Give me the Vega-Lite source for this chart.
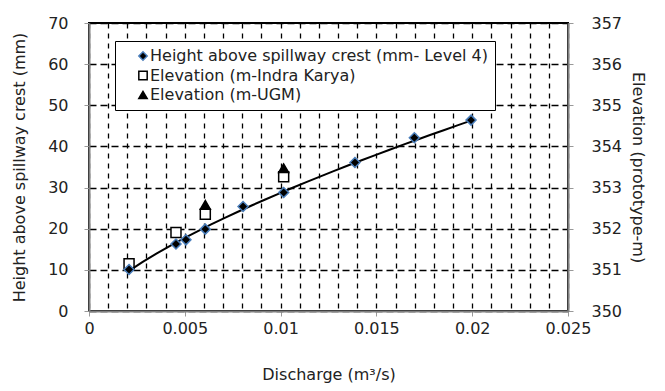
{
  "$schema": "https://vega.github.io/schema/vega-lite/v6.json",
  "width": 479,
  "height": 288,
  "autosize": {"type": "none"},
  "padding": {"left": 89, "top": 23, "right": 97, "bottom": 80},
  "background": "white",
  "config": {
    "font": "DejaVu Sans",
    "view": {"stroke": "black", "strokeWidth": 2},
    "axis": {
      "labelFont": "DejaVu Sans",
      "titleFont": "DejaVu Sans",
      "labelFontSize": 16,
      "titleFontSize": 16,
      "labelColor": "#222",
      "titleColor": "#222",
      "titleFontWeight": "normal",
      "domainColor": "#808080",
      "domainWidth": 2,
      "tickColor": "#999",
      "tickSize": 5,
      "gridColor": "black",
      "gridWidth": 1.3
    },
    "legend": {"labelFont": "DejaVu Sans"}
  },
  "datasets": {
    "height": [
      {"q": 0.00209, "h": 10.1, "series": "Height above spillway crest (mm- Level 4)"},
      {"q": 0.00454, "h": 16.3, "series": "Height above spillway crest (mm- Level 4)"},
      {"q": 0.00506, "h": 17.3, "series": "Height above spillway crest (mm- Level 4)"},
      {"q": 0.00607, "h": 19.9, "series": "Height above spillway crest (mm- Level 4)"},
      {"q": 0.00804, "h": 25.4, "series": "Height above spillway crest (mm- Level 4)"},
      {"q": 0.01016, "h": 28.8, "series": "Height above spillway crest (mm- Level 4)"},
      {"q": 0.01388, "h": 36.1, "series": "Height above spillway crest (mm- Level 4)"},
      {"q": 0.01698, "h": 42.1, "series": "Height above spillway crest (mm- Level 4)"},
      {"q": 0.01994, "h": 46.4, "series": "Height above spillway crest (mm- Level 4)"}
    ],
    "elevation": [
      {"q": 0.00209, "e": 351.15, "series": "Elevation (m-Indra Karya)"},
      {"q": 0.00454, "e": 351.91, "series": "Elevation (m-Indra Karya)"},
      {"q": 0.00607, "e": 352.35, "series": "Elevation (m-Indra Karya)"},
      {"q": 0.01016, "e": 353.26, "series": "Elevation (m-Indra Karya)"},
      {"q": 0.00607, "e": 352.58, "series": "Elevation (m-UGM)"},
      {"q": 0.01016, "e": 353.47, "series": "Elevation (m-UGM)"}
    ]
  },
  "layer": [
    {
      "data": {"name": "elevation"},
      "mark": {"type": "point", "filled": true, "size": 100, "strokeWidth": 1.5, "opacity": 1},
      "encoding": {
        "x": {
          "field": "q", "type": "quantitative",
          "scale": {"domain": [0, 0.025], "nice": false, "zero": false},
          "axis": {
            "title": "Discharge (m³/s)",
            "values": [0, 0.001, 0.002, 0.003, 0.004, 0.005, 0.006, 0.007, 0.008, 0.009, 0.01, 0.011, 0.012, 0.013, 0.014, 0.015, 0.016, 0.017, 0.018, 0.019, 0.02, 0.021, 0.022, 0.023, 0.024, 0.025],
            "labelExpr": "round(datum.value*1000) % 5 === 0 ? toString(datum.value) : ''",
            "tickOpacity": {"condition": {"test": "round(datum.value*1000) % 5 === 0", "value": 1}, "value": 0},
            "grid": true,
            "gridDash": [5, 5],
            "labelPadding": 4,
            "titlePadding": 30,
            "labelFlush": false,
            "labelOverlap": false
          }
        },
        "y": {
          "field": "e", "type": "quantitative",
          "scale": {"domain": [350, 357], "nice": false, "zero": false},
          "axis": {
            "orient": "right",
            "title": "Elevation (prototype-m)",
            "values": [350, 351, 352, 353, 354, 355, 356, 357],
            "grid": false,
            "labelPadding": 18,
            "titlePadding": 8
          }
        },
        "shape": {
          "field": "series", "type": "nominal",
          "scale": {"domain": ["Height above spillway crest (mm- Level 4)", "Elevation (m-Indra Karya)", "Elevation (m-UGM)"], "range": ["diamond", "square", "triangle-up"]},
          "legend": {
            "title": null, "orient": "none", "legendX": 26, "legendY": 18,
            "fillColor": "white", "strokeColor": "black",
            "padding": 7, "symbolOffset": 13, "symbolSize": 70, "symbolStrokeWidth": 1.5,
            "labelFontSize": 16, "labelColor": "#222", "rowPadding": 3.5, "labelOffset": -1, "labelLimit": 500
          }
        },
        "fill": {
          "field": "series", "type": "nominal",
          "scale": {"domain": ["Height above spillway crest (mm- Level 4)", "Elevation (m-Indra Karya)", "Elevation (m-UGM)"], "range": ["black", "white", "black"]},
          "legend": null
        },
        "stroke": {
          "field": "series", "type": "nominal",
          "scale": {"domain": ["Height above spillway crest (mm- Level 4)", "Elevation (m-Indra Karya)", "Elevation (m-UGM)"], "range": ["#4a7ebb", "black", "black"]},
          "legend": null
        }
      }
    },
    {
      "layer": [
        {
          "data": {"name": "height"},
          "transform": [{"regression": "h", "on": "q", "method": "pow", "extent": [0.00209, 0.01994]}],
          "mark": {"type": "line", "color": "black", "strokeWidth": 2},
          "encoding": {
            "x": {
              "field": "q", "type": "quantitative",
              "axis": {
                "title": "Discharge (m³/s)",
                "values": [0, 0.001, 0.002, 0.003, 0.004, 0.005, 0.006, 0.007, 0.008, 0.009, 0.01, 0.011, 0.012, 0.013, 0.014, 0.015, 0.016, 0.017, 0.018, 0.019, 0.02, 0.021, 0.022, 0.023, 0.024, 0.025],
                "labelExpr": "round(datum.value*1000) % 5 === 0 ? toString(datum.value) : ''",
                "tickOpacity": {"condition": {"test": "round(datum.value*1000) % 5 === 0", "value": 1}, "value": 0},
                "grid": true,
                "gridDash": [5, 5],
                "labelPadding": 4,
                "titlePadding": 30,
                "labelFlush": false,
                "labelOverlap": false
              }
            },
            "y": {"field": "h", "type": "quantitative"}
          }
        },
        {
          "data": {"name": "height"},
          "mark": {"type": "point", "filled": true, "size": 100, "strokeWidth": 1.5, "opacity": 1},
          "encoding": {
            "x": {
              "field": "q", "type": "quantitative",
              "axis": {
                "title": "Discharge (m³/s)",
                "values": [0, 0.001, 0.002, 0.003, 0.004, 0.005, 0.006, 0.007, 0.008, 0.009, 0.01, 0.011, 0.012, 0.013, 0.014, 0.015, 0.016, 0.017, 0.018, 0.019, 0.02, 0.021, 0.022, 0.023, 0.024, 0.025],
                "labelExpr": "round(datum.value*1000) % 5 === 0 ? toString(datum.value) : ''",
                "tickOpacity": {"condition": {"test": "round(datum.value*1000) % 5 === 0", "value": 1}, "value": 0},
                "grid": true,
                "gridDash": [5, 5],
                "labelPadding": 4,
                "titlePadding": 30,
                "labelFlush": false,
                "labelOverlap": false
              }
            },
            "y": {
              "field": "h", "type": "quantitative",
              "scale": {"domain": [0, 70], "nice": false},
              "axis": {
                "orient": "left",
                "title": "Height above spillway crest (mm)",
                "values": [0, 5, 10, 15, 20, 25, 30, 35, 40, 45, 50, 55, 60, 65, 70],
                "labelExpr": "datum.value % 10 === 0 ? toString(datum.value) : ''",
                "tickOpacity": {"condition": {"test": "datum.value % 10 === 0", "value": 1}, "value": 0},
                "grid": true,
                "gridDash": [7, 4],
                "labelPadding": 16,
                "titlePadding": 20
              }
            },
            "shape": {"field": "series", "type": "nominal"},
            "fill": {"field": "series", "type": "nominal"},
            "stroke": {"field": "series", "type": "nominal"}
          }
        }
      ]
    }
  ],
  "resolve": {"scale": {"y": "independent"}}
}
